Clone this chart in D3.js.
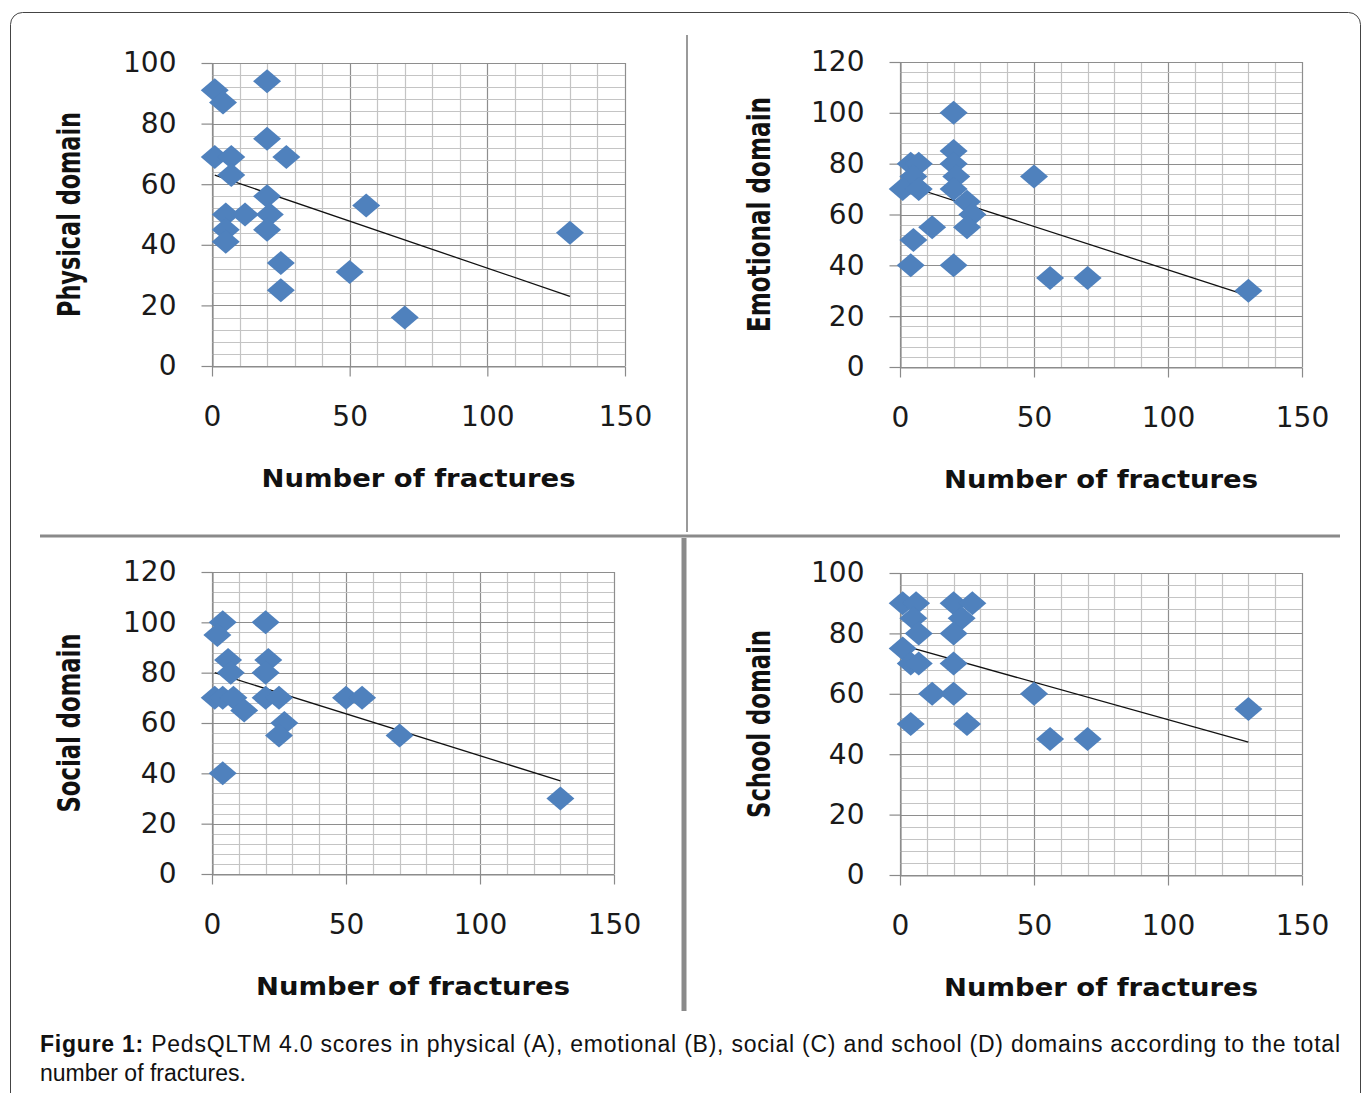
<!doctype html>
<html lang="en">
<head>
<meta charset="utf-8">
<title>PedsQL scores by number of fractures</title>
<script src="https://d3js.org/d3.v7.min.js"></script>
<style>
  body { margin: 0; background: #fff; }
  svg { display: block; }
</style>
</head>
<body>
<svg width="1371" height="1093"></svg>
<script>
// values: [number of fractures, score]
var xTicks = [0, 50, 100, 150];
var yTicks100 = [0, 20, 40, 60, 80, 100];
var yTicks120 = [0, 20, 40, 60, 80, 100, 120];

var physical = [
  [1, 91], [4, 87], [20, 94], [20, 75], [1, 69], [7, 69], [27, 69], [7, 63],
  [20, 56], [56, 53], [5, 50], [12, 50], [21, 50], [5, 45], [20, 45], [5, 41],
  [130, 44], [25, 34], [50, 31], [25, 25], [70, 16]
];
var emotional = [
  [20, 100], [20, 85], [4, 80], [7, 80], [20, 80], [5, 75], [21, 75], [1, 70],
  [7, 70], [20, 70], [50, 75], [25, 65], [27, 60], [25, 55], [12, 55], [5, 50],
  [4, 40], [20, 40], [56, 35], [70, 35], [130, 30]
];
var social = [
  [4, 100], [2, 95], [20, 100], [6, 85], [21, 85], [7, 80], [20, 80], [1, 70],
  [4, 70], [8, 70], [12, 65], [20, 70], [25, 70], [50, 70], [56, 70], [27, 60],
  [25, 55], [70, 55], [4, 40], [130, 30]
];
var school = [
  [1, 90], [6, 90], [20, 90], [27, 90], [5, 85], [23, 85], [7, 80], [20, 80],
  [1, 75], [4, 70], [7, 70], [20, 70], [12, 60], [20, 60], [50, 60], [4, 50],
  [25, 50], [56, 45], [70, 45], [130, 55]
];

// linear trend lines, end points
var physicalTrend = [[1, 63], [130, 23]];
var emotionalTrend = [[1, 72], [130, 28]];
var socialTrend = [[1, 80], [130, 37]];
var schoolTrend = [[1, 76], [130, 44]];

var xTitle = 'Number of fractures';

var svg = d3.select('svg');

// outer frame and the panel dividers
svg.append('rect')
  .attr('x', 10.5).attr('y', 12.5).attr('width', 1350).attr('height', 1110)
  .attr('rx', 12)
  .style('fill', 'none').style('stroke', '#444').style('stroke-width', 1);
svg.append('line').attr('x1', 687).attr('x2', 687).attr('y1', 35).attr('y2', 532)
  .style('stroke', '#9a9a9a').style('stroke-width', 2);
svg.append('line').attr('x1', 40).attr('x2', 1340).attr('y1', 536).attr('y2', 536)
  .style('stroke', '#8a8a8a').style('stroke-width', 3);
svg.append('line').attr('x1', 684).attr('x2', 684).attr('y1', 538).attr('y2', 1011)
  .style('stroke', '#8a8a8a').style('stroke-width', 5);

var panels = [
  { pts: physical, trend: physicalTrend, yTicks: yTicks100, title: 'Physical domain', titleLen: 205,
    l: 212, r: 625, t: 63, b: 366, titleX: 80 },
  { pts: emotional, trend: emotionalTrend, yTicks: yTicks120, title: 'Emotional domain', titleLen: 235,
    l: 900, r: 1302, t: 62, b: 367, titleX: 770 },
  { pts: social, trend: socialTrend, yTicks: yTicks120, title: 'Social domain', titleLen: 179,
    l: 212, r: 614, t: 572, b: 874, titleX: 80 },
  { pts: school, trend: schoolTrend, yTicks: yTicks100, title: 'School domain', titleLen: 188,
    l: 900, r: 1302, t: 573, b: 875, titleX: 770 }
];

var diamond = 'M0,-12L14,0L0,12L-14,0Z';

panels.forEach(function(p) {
  var yMax = p.yTicks[p.yTicks.length - 1];
  var x = d3.scaleLinear().domain([0, 150]).range([p.l, p.r]);
  var y = d3.scaleLinear().domain([0, yMax]).range([p.b, p.t]);
  var g = svg.append('g');

  // grid: minor every 10 / 4, major every 50 / 20
  g.selectAll('.vgrid').data(d3.range(0, 151, 10)).enter().append('line')
    .attr('x1', function(d) { return Math.round(x(d)) + 0.5; })
    .attr('x2', function(d) { return Math.round(x(d)) + 0.5; })
    .attr('y1', y(yMax)).attr('y2', y(0))
    .style('stroke', function(d) { return d % 50 === 0 ? '#8e8e8e' : '#c4c4c4'; })
    .style('stroke-width', 1.2);
  g.selectAll('.hgrid').data(d3.range(0, yMax + 1, 4)).enter().append('line')
    .attr('y1', function(d) { return Math.round(y(d)) + 0.5; })
    .attr('y2', function(d) { return Math.round(y(d)) + 0.5; })
    .attr('x1', x(0)).attr('x2', x(150))
    .style('stroke', function(d) { return d % 20 === 0 ? '#8e8e8e' : '#c4c4c4'; })
    .style('stroke-width', 1.2);

  // axes
  var ax = g.append('g').attr('transform', 'translate(0,' + (Math.round(y(0)) + 0.5) + ')')
    .call(d3.axisBottom(x).tickValues(xTicks).tickSize(10).tickSizeOuter(0).tickPadding(30));
  var ay = g.append('g').attr('transform', 'translate(' + (Math.round(x(0)) + 0.5) + ',0)')
    .call(d3.axisLeft(y).tickValues(p.yTicks).tickSize(11).tickSizeOuter(0).tickPadding(25));
  [ax, ay].forEach(function(a) {
    a.select('.domain').style('stroke', '#8a8a8a').style('stroke-width', 1.2);
    a.selectAll('.tick line').style('stroke', '#8a8a8a').style('stroke-width', 1.2);
    a.selectAll('.tick text')
      .style('font-family', 'DejaVu Sans, sans-serif')
      .style('font-size', '28px')
      .style('fill', '#1a1a1a');
  });

  // trend line
  g.append('path')
    .datum(p.trend)
    .attr('d', d3.line().x(function(d) { return x(d[0]); }).y(function(d) { return y(d[1]); }))
    .style('fill', 'none').style('stroke', '#111').style('stroke-width', 1.3);

  // points
  g.selectAll('.pt').data(p.pts).enter().append('path')
    .attr('d', diamond)
    .attr('transform', function(d) { return 'translate(' + x(d[0]) + ',' + y(d[1]) + ')'; })
    .style('fill', '#4f81bd');

  // titles
  g.append('text')
    .attr('x', (p.l + p.r) / 2).attr('y', p.b + 121)
    .attr('text-anchor', 'middle')
    .attr('textLength', 314).attr('lengthAdjust', 'spacingAndGlyphs')
    .style('font-family', 'DejaVu Sans, sans-serif')
    .style('font-weight', 'bold').style('font-size', '24px').style('fill', '#111')
    .text(xTitle);
  g.append('text')
    .attr('transform', 'translate(' + p.titleX + ',' + (p.t + p.b) / 2 + ') rotate(-90)')
    .attr('text-anchor', 'middle')
    .attr('textLength', p.titleLen).attr('lengthAdjust', 'spacingAndGlyphs')
    .style('font-family', 'DejaVu Sans, sans-serif')
    .style('font-weight', 'bold').style('font-size', '32px').style('fill', '#111')
    .text(p.title);
});

// caption
var cap = svg.append('text')
  .attr('x', 40).attr('y', 1052)
  .attr('textLength', 1300).attr('lengthAdjust', 'spacing')
  .style('font-family', 'Liberation Sans, Arial, sans-serif')
  .style('font-size', '23px').style('fill', '#111');
cap.append('tspan').style('font-weight', 'bold').text('Figure 1: ');
cap.append('tspan').text('PedsQLTM 4.0 scores in physical (A), emotional (B), social (C) and school (D) domains according to the total');
svg.append('text')
  .attr('x', 40).attr('y', 1081)
  .style('font-family', 'Liberation Sans, Arial, sans-serif')
  .style('font-size', '23px').style('fill', '#111')
  .text('number of fractures.');
</script>
</body>
</html>
